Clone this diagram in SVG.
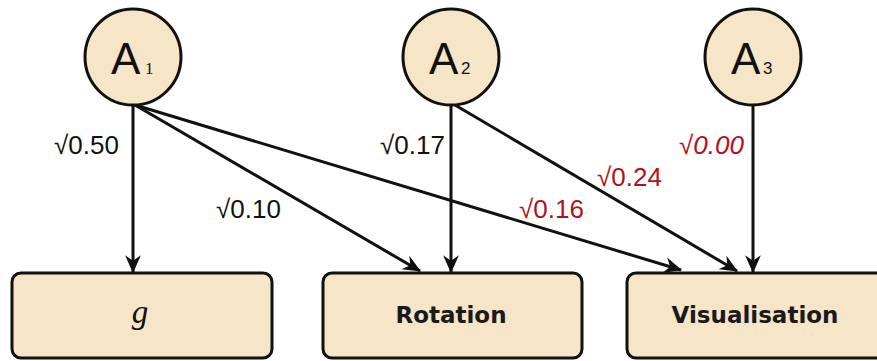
<svg xmlns="http://www.w3.org/2000/svg" width="877" height="361" viewBox="0 0 877 361">
<defs>
<style>
.node{fill:#f6e5c6;stroke:#111;stroke-width:3}
.edge{stroke:#111;stroke-width:3;fill:none;marker-end:url(#arr)}
.lab{font-family:"Liberation Sans",Arial,sans-serif;font-size:26px;fill:#111}
.red{fill:#b0121d}
.big{font-family:"Liberation Sans",Arial,sans-serif;font-size:44px;fill:#111}
.sub{font-family:"Liberation Sans",Arial,sans-serif;font-size:17px;fill:#111}
.box{font-family:"DejaVu Sans",Verdana,sans-serif;font-weight:bold;font-size:23px;fill:#1a1a1a;text-anchor:middle}
</style>
<marker id="arr" viewBox="0 0 16 16" refX="15" refY="8" markerWidth="18" markerHeight="18" markerUnits="userSpaceOnUse" orient="auto">
<path d="M0,1 L16,8 L0,15 L5,8 z" fill="#111"/>
</marker>
</defs>
<rect width="877" height="361" fill="#fff"/>
<g id="connectors">
<line class="edge" x1="133" y1="104" x2="133" y2="272"/>
<line class="edge" x1="135" y1="105" x2="420" y2="271"/>
<line class="edge" x1="135" y1="105" x2="681" y2="270"/>
<line class="edge" x1="451" y1="104" x2="451" y2="272"/>
<line class="edge" x1="455" y1="105" x2="737" y2="271"/>
<line class="edge" x1="753" y1="104" x2="753" y2="272"/>
</g>
<g id="labels">
<text class="lab" x="54" y="154">√0.50</text>
<text class="lab" x="216" y="218">√0.10</text>
<text class="lab" x="380" y="154">√0.17</text>
<text class="lab red" x="597" y="186">√0.24</text>
<text class="lab red" x="519" y="218">√0.16</text>
<text class="lab red" x="679" y="154" font-style="italic">√0.00</text>
</g>
<g id="A1">
<circle class="node" cx="133" cy="57" r="48"/>
<text class="big" x="111" y="74">A</text>
<text x="145" y="74" style="font-family:'Liberation Serif',serif;font-size:17px;fill:#111">1</text>
</g>
<g id="A2">
<circle class="node" cx="451" cy="57" r="48"/>
<text class="big" x="429" y="74">A</text>
<text class="sub" x="461" y="74">2</text>
</g>
<g id="A3">
<circle class="node" cx="753" cy="57" r="48"/>
<text class="big" x="731" y="74">A</text>
<text class="sub" x="763" y="74">3</text>
</g>
<g id="g">
<rect class="node" x="12" y="273" width="260" height="85" rx="9"/>
<text x="140" y="323" text-anchor="middle" style="font-family:'Liberation Serif',serif;font-style:italic;font-size:33px;fill:#111">g</text>
</g>
<g id="rotation">
<rect class="node" x="323" y="273" width="259" height="85" rx="9"/>
<text class="box" x="451" y="323">Rotation</text>
</g>
<g id="visualisation">
<rect class="node" x="627" y="273" width="262" height="85" rx="9"/>
<text class="box" x="755" y="323">Visualisation</text>
</g>
</svg>
